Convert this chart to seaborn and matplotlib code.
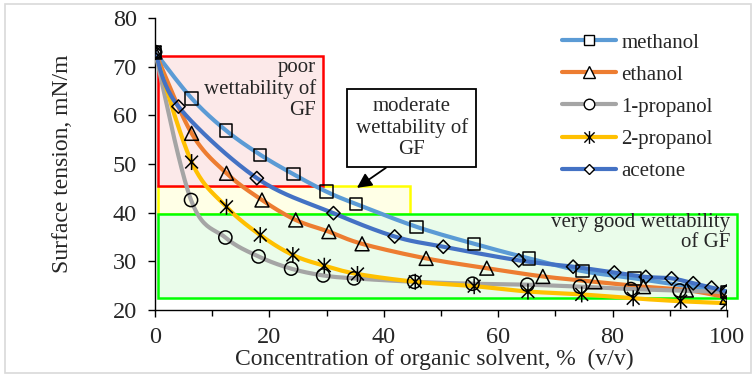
import numpy as np
import pandas as pd
import matplotlib
matplotlib.use("Agg")
import matplotlib.pyplot as plt
import seaborn as sns
from matplotlib.patches import Rectangle
from matplotlib.lines import Line2D
from matplotlib.path import Path

# ---------------- data ----------------
solvents = ["methanol", "ethanol", "1-propanol", "2-propanol", "acetone"]

methanol_x = [0, 6.4, 12.4, 18.4, 24.2, 30.0, 35.1, 45.7, 55.8, 65.4, 74.7, 83.8, 100]
methanol_y = [73.0, 63.5, 56.9, 51.9, 47.9, 44.3, 41.8, 37.1, 33.6, 30.6, 28.0, 26.5, 23.7]

ethanol_x = [0, 6.4, 12.5, 18.7, 24.6, 30.4, 36.2, 47.4, 58.0, 67.8, 76.9, 85.4, 92.9, 100]
ethanol_y = [73.0, 56.3, 48.1, 42.6, 38.5, 36.1, 33.6, 30.6, 28.6, 26.9, 25.8, 24.8, 24.1, 22.6]

propanol1_x = [0, 6.3, 12.3, 18.1, 23.8, 29.4, 34.8, 45.3, 55.5, 65.1, 74.3, 83.2, 91.7, 100]
propanol1_y = [73.0, 42.6, 34.9, 31.0, 28.5, 27.1, 26.5, 25.8, 25.4, 25.2, 24.8, 24.3, 24.0, 23.7]

propanol2_x = [0, 6.4, 12.5, 18.4, 24.1, 29.6, 35.4, 45.5, 55.8, 65.2, 74.6, 83.6, 91.9, 100]
propanol2_y = [73.0, 50.4, 41.2, 35.4, 31.3, 29.1, 27.4, 25.8, 24.9, 23.8, 23.2, 22.4, 21.8, 21.4]

acetone_x = [0, 4.1, 17.8, 31.2, 41.9, 50.4, 63.6, 73.1, 80.3, 85.8, 90.3, 94.1, 97.3, 100]
acetone_y = [73.0, 61.8, 47.1, 39.9, 35.1, 33.0, 30.2, 28.9, 27.7, 26.8, 26.5, 25.5, 24.6, 23.8]

x_ticks = [0, 20, 40, 60, 80, 100]
y_ticks = [20, 30, 40, 50, 60, 70, 80]

# wettability zones: (x0, x1, y0, y1)
zone_poor = (0.5, 29.4, 45.4, 72.2)
zone_moderate = (0.5, 44.6, 39.8, 45.4)
zone_good = (0.5, 101.7, 22.4, 39.8)

# ---------------- styling ----------------
series = {
    "methanol": (methanol_x, methanol_y),
    "ethanol": (ethanol_x, ethanol_y),
    "1-propanol": (propanol1_x, propanol1_y),
    "2-propanol": (propanol2_x, propanol2_y),
    "acetone": (acetone_x, acetone_y),
}
colors = {"methanol": "#5B9BD5", "ethanol": "#ED7D31", "1-propanol": "#A5A5A5",
          "2-propanol": "#FFC000", "acetone": "#4472C4"}
star = Path([(0, -1), (0, 1), (-0.8, -0.8), (0.8, 0.8), (-0.8, 0.8), (0.8, -0.8)],
            [Path.MOVETO, Path.LINETO, Path.MOVETO, Path.LINETO, Path.MOVETO, Path.LINETO])
markers = {"methanol": "s", "ethanol": "^", "1-propanol": "o",
           "2-propanol": star, "acetone": "D"}
msizes = {"methanol": 9.0, "ethanol": 10.0, "1-propanol": 9.5,
          "2-propanol": 11.5, "acetone": 6.8}

sns.set_theme(style="white")
plt.rcParams['font.family'] = ['Liberation Serif', 'DejaVu Serif']

fig = plt.figure(figsize=(7.56, 3.77), dpi=100)
ax = fig.add_axes([155 / 756, 1 - 310 / 377, (727 - 155) / 756, (310 - 18) / 377])

# outer light-gray frame of the figure
fig.patches.append(Rectangle((5 / 756, 4 / 377), 746 / 756, 369 / 377, transform=fig.transFigure,
                             fill=False, edgecolor="#D9D9D9", linewidth=1.2))

# zone boxes
def zone(z, face, edge):
    x0, x1, y0, y1 = z
    ax.add_patch(Rectangle((x0, y0), x1 - x0, y1 - y0, facecolor=face, edgecolor=edge,
                           linewidth=1.8, zorder=1, clip_on=False))

zone(zone_moderate, "#FFFFE6", "#FFFF00")
zone(zone_poor, "#FCE9E9", "#FF0000")
zone(zone_good, "#EAFCEA", "#00FF00")


def smooth_curve(xs, ys, n=24):
    """Excel-like smoothed line (cubic Bezier / Catmull-Rom) through the points."""
    P = np.column_stack([xs, ys]).astype(float)
    Pe = np.vstack([P[0], P, P[-1]])
    t = np.linspace(0, 1, n, endpoint=False)[:, None]
    out = []
    for i in range(1, len(Pe) - 2):
        p0, p1, p2, p3 = Pe[i - 1], Pe[i], Pe[i + 1], Pe[i + 2]
        c1 = p1 + (p2 - p0) / 6.0
        c2 = p2 - (p3 - p1) / 6.0
        seg = ((1 - t) ** 3) * p1 + 3 * ((1 - t) ** 2) * t * c1 + 3 * (1 - t) * t ** 2 * c2 + t ** 3 * p2
        out.append(seg)
    out.append(P[-1][None, :])
    return np.vstack(out)

for name in solvents:
    xs, ys = series[name]
    cur = smooth_curve(xs, ys)
    dfc = pd.DataFrame({"x": cur[:, 0], "y": cur[:, 1]})
    sns.lineplot(data=dfc, x="x", y="y", ax=ax, color=colors[name], linewidth=3.0,
                 sort=False, estimator=None, zorder=3, legend=False)

for name in solvents:
    xs, ys = series[name]
    dfp = pd.DataFrame({"x": xs, "y": ys})
    sns.scatterplot(data=dfp, x="x", y="y", ax=ax, marker=markers[name], s=msizes[name] ** 2,
                    facecolors="none", edgecolor="black", linewidth=1.1, zorder=4,
                    legend=False)

ax.set_xlim(0, 100)
ax.set_ylim(20, 80)
ax.set_xticks(x_ticks)
ax.set_xticklabels([str(v) for v in x_ticks])
ax.set_xticks(np.arange(10, 100, 20), minor=True)
ax.set_yticks(y_ticks)
ax.set_yticklabels([str(v) for v in y_ticks])
ax.tick_params(axis="both", which="major", direction="out", length=5, width=1,
               color="black", labelsize=17.5)
ax.tick_params(axis="x", which="major", pad=7, bottom=True)
ax.tick_params(axis="y", which="major", pad=8, left=True)
ax.tick_params(axis="x", which="minor", direction="out", length=4, width=1, color="black",
               bottom=True)

for s in ["top", "right"]:
    ax.spines[s].set_visible(False)
for s in ["left", "bottom"]:
    ax.spines[s].set_color("black")
    ax.spines[s].set_linewidth(1.0)
ax.set_facecolor("white")

ax.set_xlabel("Concentration of organic solvent, %  (v/v)", fontsize=17, va="top")
ax.set_ylabel("Surface tension, mN/m", fontsize=17)
ax.xaxis.set_label_coords(0.488, -0.133)
ax.yaxis.set_label_coords(-0.143, 0.5)

# zone labels
ax.text(28.2, 71.8, "poor\nwettability of\nGF", ha="right", va="top", fontsize=15,
        linespacing=1.13, zorder=5)
ax.text(100.6, 40.0, "very good wettability\nof GF", ha="right", va="top", fontsize=15,
        linespacing=1.13, zorder=5, clip_on=False)
ax.annotate("moderate\nwettability of\nGF", xy=(35.3, 45.1), xytext=(44.9, 57.4),
            ha="center", va="center", fontsize=15, linespacing=1.13, zorder=6,
            bbox=dict(boxstyle="square,pad=0.4", facecolor="white", edgecolor="black",
                      linewidth=1.3),
            arrowprops=dict(arrowstyle="-|>", color="black", lw=1.3, mutation_scale=22,
                            relpos=(0.385, 0.0), shrinkA=0, shrinkB=0))

handles = [Line2D([], [], color=colors[n], lw=3.0, marker=markers[n],
                  markersize=msizes[n] * 0.8, markerfacecolor="white",
                  markeredgecolor="black", markeredgewidth=1.0) for n in solvents]
fig.legend(handles, solvents, loc="upper left", bbox_to_anchor=(562 / 756, 1 - 33 / 377),
           frameon=False, fontsize=15, handlelength=2.6, handletextpad=0.25,
           labelspacing=0.6, borderpad=0, borderaxespad=0)

fig.savefig("out.png", dpi=100, facecolor="white")
